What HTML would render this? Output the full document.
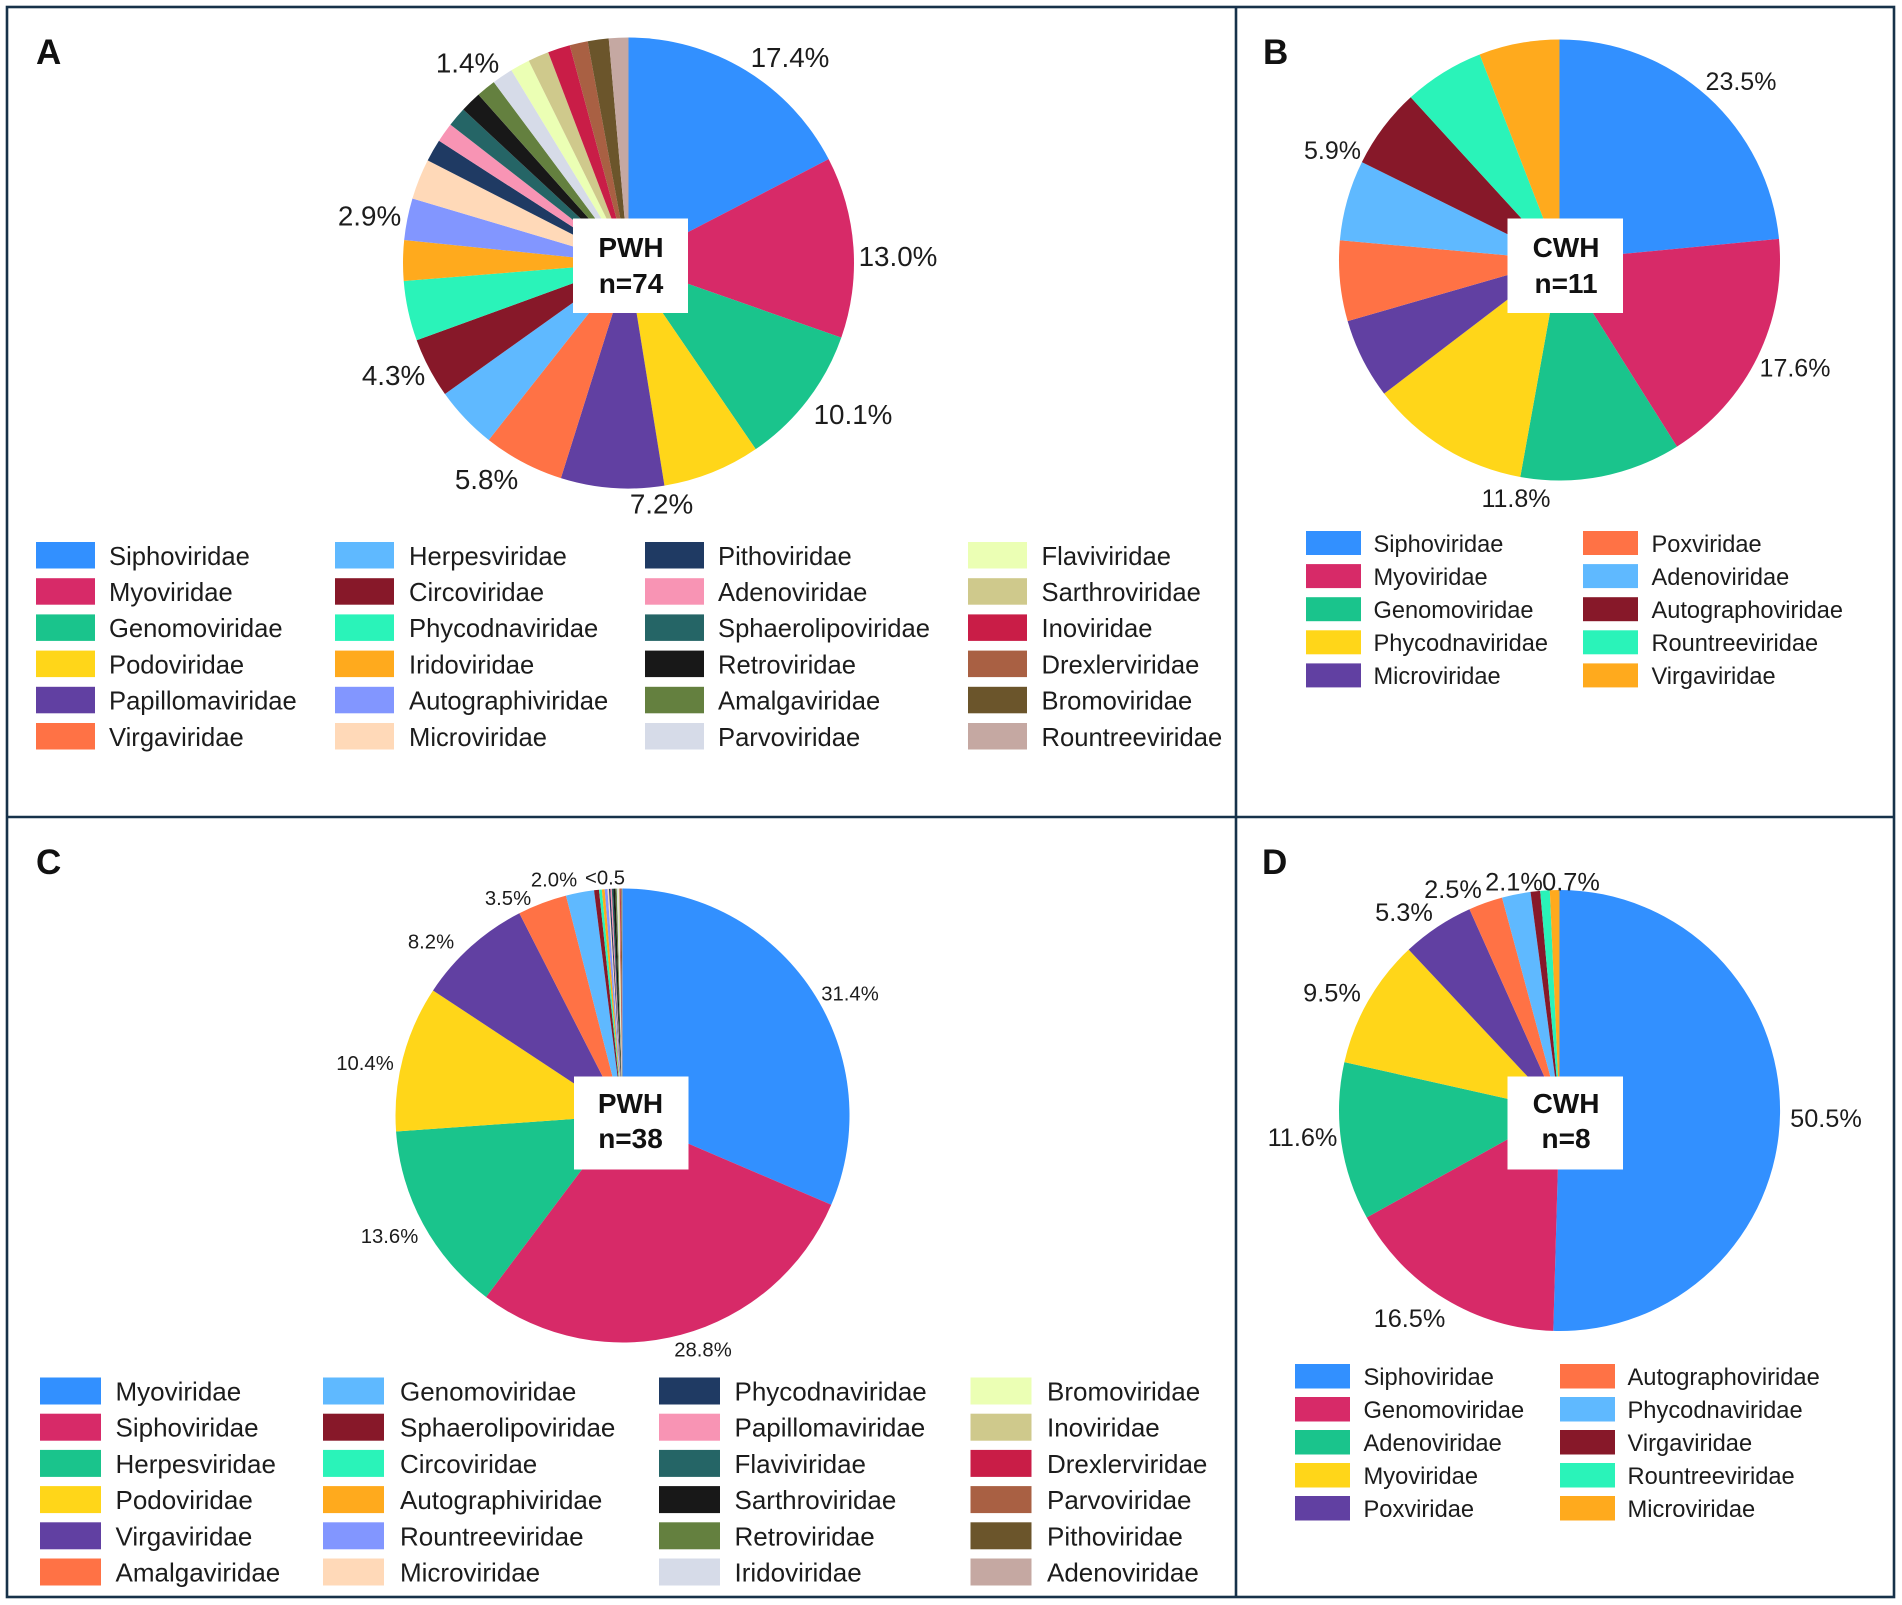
<!DOCTYPE html>
<html lang="en">
<head>
<meta charset="utf-8">
<title>Virome family composition pie charts</title>
<style>
  html, body { margin: 0; padding: 0; background: #fff; }
  svg { display: block; font-family: "Liberation Sans", sans-serif; fill: #1c1c1c; }
  .label-a { font-size: 27.8px; text-anchor: middle; }
  .label-b { font-size: 25px; text-anchor: middle; }
  .label-c { font-size: 20.3px; text-anchor: middle; }
  .label-d { font-size: 25.3px; text-anchor: middle; }
  .center-text { font-size: 28px; font-weight: 700; text-anchor: middle; fill: #111; }
  .panel-letter { font-size: 35px; font-weight: 700; fill: #111; }
</style>
</head>
<body>
<svg id="figure" xmlns="http://www.w3.org/2000/svg" width="1902" height="1605" viewBox="0 0 1902 1605">
  <rect x="0" y="0" width="1902" height="1605" fill="#ffffff"/>

  <g id="panel-a"></g>
  <g id="panel-b"></g>
  <g id="panel-c"></g>
  <g id="panel-d"></g>

  <g fill="none" stroke="#17324a" stroke-width="2.6">
    <rect x="7" y="7" width="1887" height="1590"/>
    <line x1="1236" y1="7" x2="1236" y2="1597"/>
    <line x1="7" y1="817" x2="1894" y2="817"/>
  </g>

  <text class="panel-letter" x="36" y="64">A</text>
  <text class="panel-letter" x="1263" y="64">B</text>
  <text class="panel-letter" x="36" y="874">C</text>
  <text class="panel-letter" x="1262" y="874">D</text>

  <g>
    <text class="label-a" x="790" y="67">17.4%</text>
    <text class="label-a" x="898" y="266">13.0%</text>
    <text class="label-a" x="853" y="424">10.1%</text>
    <text class="label-a" x="661.5" y="513.5">7.2%</text>
    <text class="label-a" x="486.5" y="489">5.8%</text>
    <text class="label-a" x="393.5" y="385">4.3%</text>
    <text class="label-a" x="369.5" y="225.5">2.9%</text>
    <text class="label-a" x="467.5" y="72.5">1.4%</text>
  </g>
  <g>
    <text class="label-b" x="1741" y="90">23.5%</text>
    <text class="label-b" x="1795" y="376.5">17.6%</text>
    <text class="label-b" x="1516" y="507">11.8%</text>
    <text class="label-b" x="1332.5" y="159">5.9%</text>
  </g>
  <g>
    <text class="label-c" x="850" y="1000.5">31.4%</text>
    <text class="label-c" x="703" y="1356.5">28.8%</text>
    <text class="label-c" x="389.5" y="1243">13.6%</text>
    <text class="label-c" x="365" y="1070">10.4%</text>
    <text class="label-c" x="431" y="948.5">8.2%</text>
    <text class="label-c" x="508" y="905">3.5%</text>
    <text class="label-c" x="554" y="886.5">2.0%</text>
    <text class="label-c" x="605" y="884.5">&lt;0.5</text>
  </g>
  <g>
    <text class="label-d" x="1826" y="1127">50.5%</text>
    <text class="label-d" x="1409.5" y="1327">16.5%</text>
    <text class="label-d" x="1302.5" y="1146">11.6%</text>
    <text class="label-d" x="1332" y="1001.5">9.5%</text>
    <text class="label-d" x="1404" y="921">5.3%</text>
    <text class="label-d" x="1453" y="898">2.5%</text>
    <text class="label-d" x="1514" y="890.5">2.1%</text>
    <text class="label-d" x="1571" y="890.5">0.7%</text>
  </g>

  <g>
    <rect x="573" y="218.5" width="115" height="94.5" fill="#ffffff"/>
    <text class="center-text" x="631" y="257">PWH</text>
    <text class="center-text" x="631" y="293">n=74</text>
  </g>
  <g>
    <rect x="1507.5" y="218.5" width="115.5" height="94.5" fill="#ffffff"/>
    <text class="center-text" x="1566" y="257">CWH</text>
    <text class="center-text" x="1566" y="293">n=11</text>
  </g>
  <g>
    <rect x="574" y="1076.5" width="114.5" height="93" fill="#ffffff"/>
    <text class="center-text" x="630.5" y="1113">PWH</text>
    <text class="center-text" x="630.5" y="1148">n=38</text>
  </g>
  <g>
    <rect x="1507.5" y="1076.5" width="115.5" height="93" fill="#ffffff"/>
    <text class="center-text" x="1566" y="1113">CWH</text>
    <text class="center-text" x="1566" y="1148">n=8</text>
  </g>
</svg>

<script>
const panelACategories = ['Siphoviridae','Myoviridae','Genomoviridae','Podoviridae','Papillomaviridae','Virgaviridae','Herpesviridae','Circoviridae','Phycodnaviridae','Iridoviridae','Autographiviridae','Microviridae','Pithoviridae','Adenoviridae','Sphaerolipoviridae','Retroviridae','Amalgaviridae','Parvoviridae','Flaviviridae','Sarthroviridae','Inoviridae','Drexlerviridae','Bromoviridae','Rountreeviridae'];
const panelAValues = [17.4,13.0,10.1,7.0,7.4,5.8,4.5,4.3,4.3,2.9,3.0,2.9,1.6,1.4,1.4,1.5,1.4,1.5,1.4,1.5,1.6,1.3,1.5,1.4];

const panelBCategories = ['Siphoviridae','Myoviridae','Genomoviridae','Phycodnaviridae','Microviridae','Poxviridae','Adenoviridae','Autographoviridae','Rountreeviridae','Virgaviridae'];
const panelBValues = [23.5,17.6,11.8,11.8,5.9,5.9,5.9,5.9,5.9,5.9];

const panelCCategories = ['Myoviridae','Siphoviridae','Herpesviridae','Podoviridae','Virgaviridae','Amalgaviridae','Genomoviridae','Sphaerolipoviridae','Circoviridae','Autographiviridae','Rountreeviridae','Microviridae','Phycodnaviridae','Papillomaviridae','Flaviviridae','Sarthroviridae','Retroviridae','Iridoviridae','Bromoviridae','Inoviridae','Drexlerviridae','Parvoviridae','Pithoviridae','Adenoviridae'];
const panelCValues = [31.4,28.8,13.6,10.4,8.2,3.5,2.0,0.35,0.2,0.2,0.2,0.1,0.1,0.1,0.1,0.15,0.1,0.1,0.05,0.05,0.05,0.05,0.05,0.05];

const panelDCategories = ['Siphoviridae','Genomoviridae','Adenoviridae','Myoviridae','Poxviridae','Autographoviridae','Phycodnaviridae','Virgaviridae','Rountreeviridae','Microviridae'];
const panelDValues = [50.5,16.5,11.6,9.5,5.3,2.5,2.1,0.7,0.7,0.7];

const seriesColors = ['#3290ff','#d72a68','#1ac48c','#ffd619','#6140a2','#ff7245','#5fb9ff','#871829','#2af3b9','#ffaa1d','#8296ff','#ffd9b8','#1f3a63','#f894b4','#256566','#181818','#64803f','#d6dbe8','#ebffb4','#cfc98c','#c91d47','#a96043','#6b552b','#c5a8a2'];

const SVG_NS = 'http://www.w3.org/2000/svg';

function kebab(s) { return s.toLowerCase().replace(/[^a-z0-9]+/g, '-'); }

function angleScale(values) {
  const total = values.reduce(function (a, b) { return a + b; }, 0);
  return function (v) { return v / total * Math.PI * 2; };
}

function polar(cx, cy, r, a) {
  return [cx + r * Math.sin(a), cy - r * Math.cos(a)];
}

function drawPie(parent, categories, values, cx, cy, r) {
  const toAngle = angleScale(values);
  let cum = 0;
  values.forEach(function (v, i) {
    const a0 = toAngle(cum);
    const a1 = toAngle(cum + v);
    cum += v;
    const p0 = polar(cx, cy, r, a0);
    const p1 = polar(cx, cy, r, a1);
    const large = (a1 - a0) > Math.PI ? 1 : 0;
    const el = document.createElementNS(SVG_NS, 'path');
    el.setAttribute('d', 'M' + cx + ' ' + cy + 'L' + p0[0].toFixed(2) + ' ' + p0[1].toFixed(2) + 'A' + r + ' ' + r + ' 0 ' + large + ' 1 ' + p1[0].toFixed(2) + ' ' + p1[1].toFixed(2) + 'Z');
    el.setAttribute('fill', seriesColors[i]);
    
    
    parent.appendChild(el);
  });
}

function drawLegend(parent, categories, layout) {
  categories.forEach(function (name, i) {
    const col = Math.floor(i / layout.rows);
    const row = i % layout.rows;
    const top = layout.top + row * layout.pitch;
    const g = document.createElementNS(SVG_NS, 'g');
    
    
    const sw = document.createElementNS(SVG_NS, 'rect');
    sw.setAttribute('x', layout.swatchX[col]);
    sw.setAttribute('y', top);
    sw.setAttribute('width', layout.swatchW);
    sw.setAttribute('height', layout.swatchH);
    sw.setAttribute('fill', seriesColors[i]);
    
    
    g.appendChild(sw);
    const t = document.createElementNS(SVG_NS, 'text');
    t.setAttribute('x', layout.textX[col]);
    t.setAttribute('y', top + layout.swatchH / 2 + layout.baseline);
    t.setAttribute('font-size', layout.fontSize);
    
    
    t.textContent = name;
    g.appendChild(t);
    parent.appendChild(g);
  });
}

function drawPanel(id, categories, values, pie, legend) {
  const parent = document.getElementById(id);
  drawPie(parent, categories, values, pie.cx, pie.cy, pie.r);
  drawLegend(parent, categories, legend);
}

drawPanel('panel-a', panelACategories, panelAValues,
  { cx: 628.5, cy: 263, r: 225.5 },
  { rows: 6, top: 542, pitch: 36.2, swatchW: 59, swatchH: 26.5, swatchX: [36, 335, 645, 968], textX: [109, 409, 718, 1041.5], fontSize: 25.6, baseline: 9.5 });

drawPanel('panel-b', panelBCategories, panelBValues,
  { cx: 1559.5, cy: 260, r: 220.5 },
  { rows: 5, top: 531, pitch: 33.1, swatchW: 55, swatchH: 24, swatchX: [1306, 1583], textX: [1373.5, 1651.5], fontSize: 23.6, baseline: 8.8 });

drawPanel('panel-c', panelCCategories, panelCValues,
  { cx: 622.5, cy: 1115.5, r: 227 },
  { rows: 6, top: 1377.5, pitch: 36.2, swatchW: 61, swatchH: 27, swatchX: [40, 323, 659, 970.5], textX: [115.5, 400, 734.5, 1047], fontSize: 26, baseline: 9.5 });

drawPanel('panel-d', panelDCategories, panelDValues,
  { cx: 1559.5, cy: 1110.5, r: 220.5 },
  { rows: 5, top: 1364, pitch: 33, swatchW: 55, swatchH: 24.5, swatchX: [1295, 1560], textX: [1363.5, 1627.5], fontSize: 23.7, baseline: 8.8 });
</script>
</body>
</html>
